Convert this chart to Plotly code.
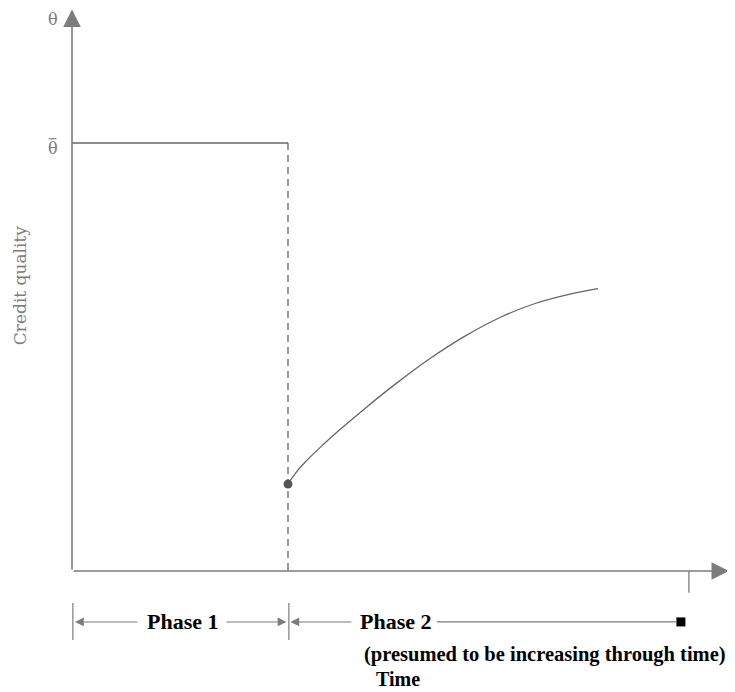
import plotly.graph_objects as go

# ---- data (time units: phase 1 ends at t=1; quality units: theta-bar = 1) ----
phase_bounds = [0.0, 1.0]
theta_bar = 1.0
phase1_t = [0.0, 1.0]
phase1_q = [1.0, 1.0]
jump_t = 1.0
jump_q = 0.203
curve_t = [1.0, 1.0324, 1.0787, 1.1481, 1.2407, 1.3565, 1.4954, 1.6574,
           1.8194, 1.9815, 2.1435, 2.3056, 2.4352]
curve_q = [0.203, 0.2271, 0.2540, 0.2883, 0.3304, 0.3799, 0.4360, 0.4965,
           0.5488, 0.5923, 0.6250, 0.6470, 0.6600]
horizon_t = 2.856
phase_labels = ["Phase 1", "Phase 2"]
phase2_note = "(presumed to be increasing through time)"
x_title = "Time"
y_title = "Credit quality"
y_tick_symbol = "θ"

AX = "#7c7c7c"
LN = "#666666"
SERIF = "DejaVu Serif"
BSERIF = "Liberation Serif"

# page has an 8px body margin, so the figure is 8px smaller than the window
XR = [-64 / 216, 663 / 216]
YR = [-121 / 428, 563 / 428]

fig = go.Figure()

# phase 1: constant credit quality at theta-bar
fig.add_trace(go.Scatter(x=phase1_t, y=phase1_q, mode="lines",
                         line=dict(color=LN, width=1.3), hoverinfo="skip"))
# dashed drop at end of phase 1
fig.add_trace(go.Scatter(x=[jump_t, jump_t], y=[theta_bar, 0], mode="lines",
                         line=dict(color=LN, width=1.3, dash="7px,5px"), hoverinfo="skip"))
# phase 2 recovery curve
fig.add_trace(go.Scatter(x=curve_t, y=curve_q, mode="lines",
                         line=dict(color=LN, width=1.3, shape="spline", smoothing=1.0),
                         hoverinfo="skip"))
fig.add_trace(go.Scatter(x=[jump_t], y=[jump_q], mode="markers",
                         marker=dict(color="#555555", size=9), hoverinfo="skip"))

# axes with arrowheads
fig.add_annotation(x=0, y=1.312, ax=0, ay=0, xref="x", yref="y", axref="x", ayref="y",
                   text="", showarrow=True, arrowhead=2, arrowsize=2.2, arrowwidth=1.6,
                   arrowcolor=AX)
fig.add_annotation(x=3.042, y=0, ax=0, ay=0, xref="x", yref="y", axref="x", ayref="y",
                   text="", showarrow=True, arrowhead=2, arrowsize=2.2, arrowwidth=1.6,
                   arrowcolor=AX)
# horizon tick on time axis
fig.add_shape(type="line", x0=horizon_t, x1=horizon_t, y0=0, y1=-0.051,
              line=dict(color=AX, width=1.3))

# y labels
LBL = dict(family=SERIF, size=16, color=AX)
fig.add_annotation(x=-0.088, y=1.288, xref="x", yref="y", text=y_tick_symbol,
                   showarrow=False, font=LBL)
fig.add_annotation(x=-0.088, y=theta_bar - 0.012, xref="x", yref="y", text=y_tick_symbol,
                   showarrow=False, font=LBL)
fig.add_shape(type="line", x0=-0.108, x1=-0.072, y0=theta_bar + 0.01, y1=theta_bar + 0.01,
              line=dict(color=AX, width=1.2))
fig.add_annotation(x=-0.24, y=(571 - 286) / 428, xref="x", yref="y", text=y_title,
                   showarrow=False, textangle=-90,
                   font=dict(family=SERIF, size=17, color=AX))

# phase row
row_q = -0.119
for tb in phase_bounds:
    fig.add_shape(type="line", x0=tb + 0.004, x1=tb + 0.004, y0=-0.075, y1=-0.161,
                  line=dict(color=AX, width=1.2))

def arrow(tail, head):
    fig.add_annotation(x=head, y=row_q, ax=tail, ay=row_q, xref="x", yref="y",
                       axref="x", ayref="y", text="", showarrow=True, arrowhead=2,
                       arrowsize=1.6, arrowwidth=1.1, arrowcolor=AX)

arrow(0.31, 0.014)
arrow(0.708, 0.993)
arrow(1.30, 1.011)
fig.add_shape(type="line", x0=1.690, x1=2.80, y0=row_q, y1=row_q,
              line=dict(color=AX, width=1.2))
fig.add_trace(go.Scatter(x=[2.819], y=[row_q], mode="markers",
                         marker=dict(symbol="square", color="black", size=9),
                         hoverinfo="skip"))

PH = dict(family=BSERIF, size=22, color="black")
fig.add_annotation(x=0.514, y=row_q, xref="x", yref="y", text="<b>%s</b>" % phase_labels[0],
                   showarrow=False, font=PH)
fig.add_annotation(x=1.5, y=row_q, xref="x", yref="y", text="<b>%s</b>" % phase_labels[1],
                   showarrow=False, font=PH)
fig.add_annotation(x=2.19, y=-0.196, xref="x", yref="y", text="<b>%s</b>" % phase2_note,
                   showarrow=False, font=dict(family=BSERIF, size=20.5, color="black"))
fig.add_annotation(x=1.509, y=-0.2815, xref="x", yref="y", yanchor="bottom",
                   text="<b>%s</b>" % x_title, showarrow=False, borderpad=0,
                   font=dict(family=BSERIF, size=20, color="black"))

fig.update_layout(width=727, height=684, margin=dict(l=0, r=0, t=0, b=0),
                  paper_bgcolor="white", plot_bgcolor="white", showlegend=False,
                  xaxis=dict(range=XR, visible=False, fixedrange=True),
                  yaxis=dict(range=YR, visible=False, fixedrange=True))

fig.write_html("out.html")
